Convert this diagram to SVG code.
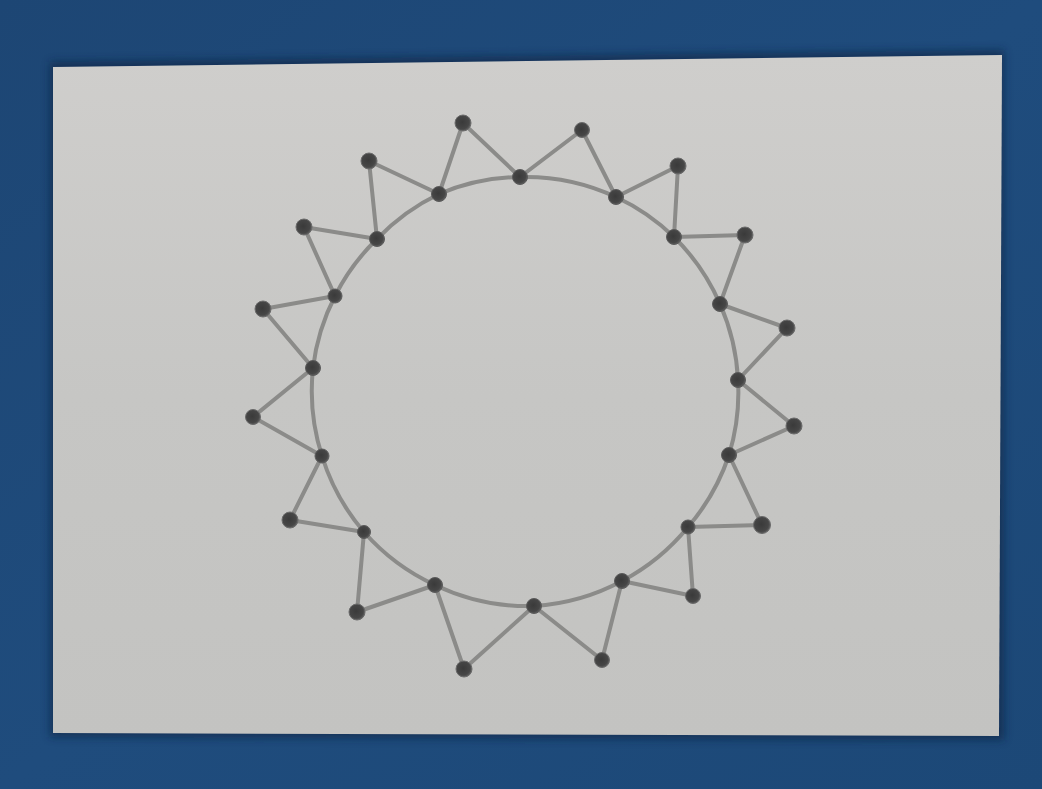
<svg xmlns="http://www.w3.org/2000/svg" width="1042" height="789" viewBox="0 0 1042 789">
<defs>
<linearGradient id="bg" x1="0" y1="0" x2="1" y2="1">
<stop offset="0" stop-color="#1d4674"/>
<stop offset="0.5" stop-color="#1f4c7d"/>
<stop offset="1" stop-color="#1c4877"/>
</linearGradient>
<linearGradient id="paper" x1="0" y1="0" x2="0" y2="1">
<stop offset="0" stop-color="#cfcecc"/>
<stop offset="0.5" stop-color="#c6c6c4"/>
<stop offset="1" stop-color="#c3c3c1"/>
</linearGradient>
<radialGradient id="dot" cx="0.45" cy="0.45" r="0.6">
<stop offset="0" stop-color="#3a3a3a"/>
<stop offset="0.7" stop-color="#464646"/>
<stop offset="1" stop-color="#666666"/>
</radialGradient>
<filter id="blur" x="-5%" y="-5%" width="110%" height="110%"><feGaussianBlur stdDeviation="4"/></filter>
</defs>
<style>
.e{fill:none;stroke:#8b8b89;stroke-width:4;stroke-linecap:round;stroke-linejoin:round}
.n{fill:url(#dot);stroke:#5a5a5a;stroke-width:1}
.o{fill:url(#dot);stroke:#6a6a6a;stroke-width:1}
</style>
<rect width="1042" height="789" fill="url(#bg)"/>
<polygon points="50,62 1004,50 1004,740 50,737" fill="#0e2440" opacity="0.6" filter="url(#blur)"/>
<polygon points="53,67 1002,55 999,736 53,733" fill="url(#paper)"/>
<g id="connectors">
<path class="e" d="M520,177 A213,213 0 0 1 616,197 A213,213 0 0 1 674,237 A213,213 0 0 1 720,304 A213,213 0 0 1 738,380 A213,213 0 0 1 729,455 A213,213 0 0 1 688,527 A213,213 0 0 1 622,581 A213,213 0 0 1 534,606 A213,213 0 0 1 435,585 A213,213 0 0 1 364,532 A213,213 0 0 1 322,456 A213,213 0 0 1 313,368 A213,213 0 0 1 335,296 A213,213 0 0 1 377,239 A213,213 0 0 1 439,194 A213,213 0 0 1 520,177"/>
<path class="e" d="M520,177 L582,130 L616,197"/>
<path class="e" d="M616,197 L678,166 L674,237"/>
<path class="e" d="M674,237 L745,235 L720,304"/>
<path class="e" d="M720,304 L787,328 L738,380"/>
<path class="e" d="M738,380 L794,426 L729,455"/>
<path class="e" d="M729,455 L762,525 L688,527"/>
<path class="e" d="M688,527 L693,596 L622,581"/>
<path class="e" d="M622,581 L602,660 L534,606"/>
<path class="e" d="M534,606 L464,669 L435,585"/>
<path class="e" d="M435,585 L357,612 L364,532"/>
<path class="e" d="M364,532 L290,520 L322,456"/>
<path class="e" d="M322,456 L253,417 L313,368"/>
<path class="e" d="M313,368 L263,309 L335,296"/>
<path class="e" d="M335,296 L304,227 L377,239"/>
<path class="e" d="M377,239 L369,161 L439,194"/>
<path class="e" d="M439,194 L463,123 L520,177"/>
</g>
<g id="i0"><circle class="n" cx="520" cy="177" r="7.5"/></g>
<g id="i1"><circle class="n" cx="616" cy="197" r="7.5"/></g>
<g id="i2"><circle class="n" cx="674" cy="237" r="7.5"/></g>
<g id="i3"><circle class="n" cx="720" cy="304" r="7.5"/></g>
<g id="i4"><circle class="n" cx="738" cy="380" r="7.5"/></g>
<g id="i5"><circle class="n" cx="729" cy="455" r="7.5"/></g>
<g id="i6"><circle class="n" cx="688" cy="527" r="7"/></g>
<g id="i7"><circle class="n" cx="622" cy="581" r="7.5"/></g>
<g id="i8"><circle class="n" cx="534" cy="606" r="7.5"/></g>
<g id="i9"><circle class="n" cx="435" cy="585" r="7.5"/></g>
<g id="i10"><circle class="n" cx="364" cy="532" r="6.5"/></g>
<g id="i11"><circle class="n" cx="322" cy="456" r="7"/></g>
<g id="i12"><circle class="n" cx="313" cy="368" r="7.5"/></g>
<g id="i13"><circle class="n" cx="335" cy="296" r="7"/></g>
<g id="i14"><circle class="n" cx="377" cy="239" r="7.5"/></g>
<g id="i15"><circle class="n" cx="439" cy="194" r="7.5"/></g>
<g id="o0"><circle class="o" cx="582" cy="130" r="7.5"/></g>
<g id="o1"><circle class="o" cx="678" cy="166" r="8"/></g>
<g id="o2"><circle class="o" cx="745" cy="235" r="8"/></g>
<g id="o3"><circle class="o" cx="787" cy="328" r="8"/></g>
<g id="o4"><circle class="o" cx="794" cy="426" r="8"/></g>
<g id="o5"><circle class="o" cx="762" cy="525" r="8.5"/></g>
<g id="o6"><circle class="o" cx="693" cy="596" r="7.5"/></g>
<g id="o7"><circle class="o" cx="602" cy="660" r="7.5"/></g>
<g id="o8"><circle class="o" cx="464" cy="669" r="8"/></g>
<g id="o9"><circle class="o" cx="357" cy="612" r="8"/></g>
<g id="o10"><circle class="o" cx="290" cy="520" r="8"/></g>
<g id="o11"><circle class="o" cx="253" cy="417" r="7.5"/></g>
<g id="o12"><circle class="o" cx="263" cy="309" r="8"/></g>
<g id="o13"><circle class="o" cx="304" cy="227" r="8"/></g>
<g id="o14"><circle class="o" cx="369" cy="161" r="8"/></g>
<g id="o15"><circle class="o" cx="463" cy="123" r="8"/></g>
</svg>
